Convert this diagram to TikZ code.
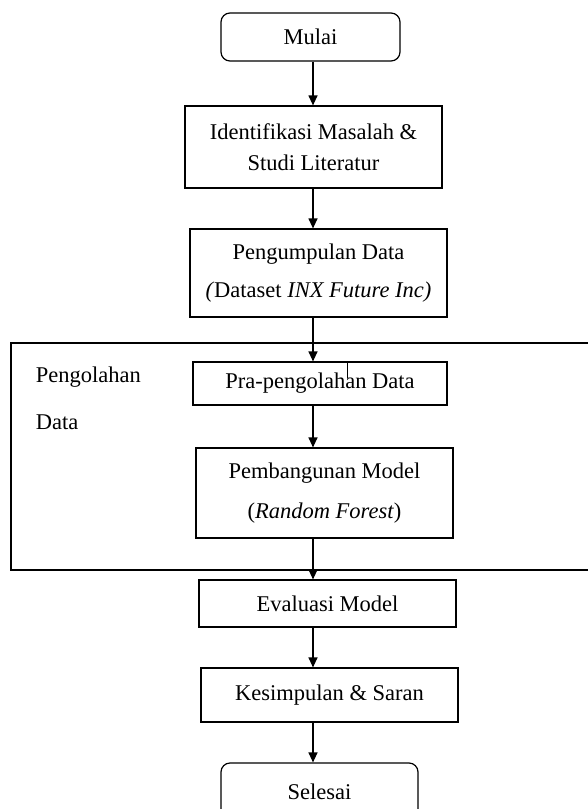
\documentclass[tikz,border=0pt]{standalone}
\usepackage{fontspec}
\setmainfont{Liberation Serif}
\usetikzlibrary{arrows.meta}

\begin{document}
\begin{tikzpicture}[x=1pt, y=-1pt, line width=1.2pt,
    proses/.style={draw, rectangle, minimum width=257pt, inner sep=0pt, align=center, font=\fontsize{22.5}{31}\selectfont},
    ujung/.style={proses, rounded corners=9pt},
    panah/.style={-{Triangle[width=9pt,length=10pt]}}]
          \useasboundingbox (0,0) rectangle (588,809);
          \coordinate (ax) at (313,0);
          \coordinate (cacat) at (347,0);
          \node[ujung, minimum width=179pt, minimum height=48pt] (mulai) at (310.5,37){Mulai};
          \node[proses, minimum height=82pt] (identifikasi) at (313.5,147){Identifikasi Masalah \&\\Studi Literatur};
          \node[proses, minimum height=88pt] (pengumpulan) at (318.5,273){Pengumpulan Data\\[7pt]\textit{(}Dataset \textit{INX Future Inc)}};
          % kotak pengolahan data, sisi kanan terpotong
          \draw (11,343) rectangle (600,570);
          \node[anchor=west, font=\fontsize{22.5}{31}\selectfont] (lblolah) at (32,377){Pengolahan};
          \node[anchor=west, font=\fontsize{22.5}{31}\selectfont] (lbldata) at (32,422){Data};
          \node[proses, minimum width=254pt, minimum height=43pt] (pra) at (320,383.5){Pra-pengolahan Data};
          \node[proses, minimum height=90pt] (pembangunan) at (324.5,493){Pembangunan Model\\[9pt](\textit{Random Forest})};
          \node[proses, minimum height=47pt] (evaluasi) at (327.5,603.5){Evaluasi Model};
          \node[proses, minimum height=54pt] (kesimpulan) at (329.5,695){Kesimpulan \& Saran};
          \node[ujung, minimum width=197pt, minimum height=70pt, text depth=0pt] (selesai) at (319.5,798){\raisebox{12pt}{Selesai}};
          \draw[panah](mulai.south -| ax) -- (identifikasi.north -| ax);
          \draw[panah](identifikasi.south -| ax) -- (pengumpulan.north -| ax);
          \draw[panah](pengumpulan.south -| ax) -- (pra.north -| ax);
          \draw[panah](pra.south -| ax) -- (pembangunan.north -| ax);
          \draw[panah](pembangunan.south -| ax) -- (evaluasi.north -| ax);
          \draw[panah](evaluasi.south -| ax) -- (kesimpulan.north -| ax);
          \draw[panah](kesimpulan.south -| ax) -- (selesai.north -| ax);
          \draw[line width=0.8pt](pra.north -| cacat) -- ++(0,17);
        \end{tikzpicture}
\end{document}
